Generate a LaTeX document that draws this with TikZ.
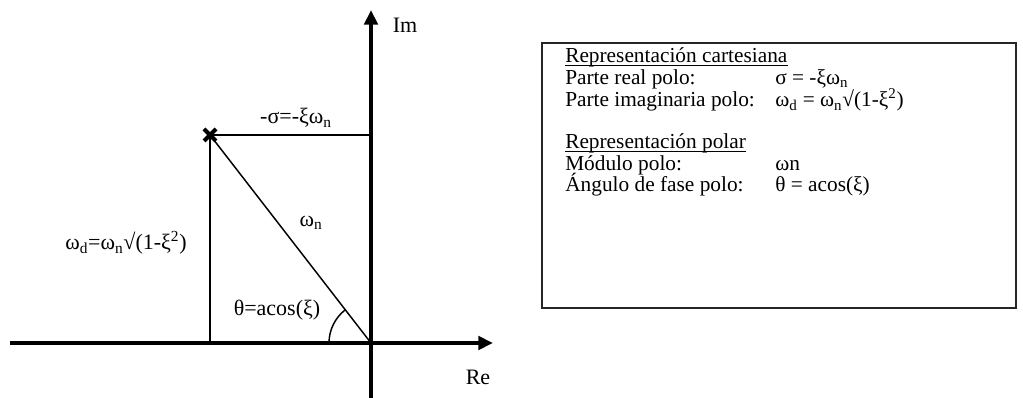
\documentclass[tikz,border=0pt]{standalone}
\usepackage{fontspec}
\setmainfont{Liberation Serif}
\usetikzlibrary{arrows.meta}
\newcommand{\sub}[1]{\textsubscript{#1}}
\newcommand{\sups}[1]{\textsuperscript{#1}}
\begin{document}
\begin{tikzpicture}[x=0.75pt,y=-0.75pt,
  axis/.style={line width=3pt,-{Triangle[length=11pt,width=10pt]}},
  thin/.style={line width=1.1pt},
  lbl/.style={inner sep=0pt,font=\fontsize{16.5}{19}\selectfont},
  txt/.style={inner sep=0pt,anchor=base west,font=\fontsize{16}{19}\selectfont},
  uline/.style={line width=0.8pt},
  frame/.style={line width=1.2pt,draw=black!85}]
\useasboundingbox (0,0) rectangle (1023,398);
% coordinates
\coordinate (xl) at (10,343);
\coordinate (xr) at (493,343);
\coordinate (yb) at (371,400);
\coordinate (yt) at (371,10);
\coordinate (O) at (371,343);
\coordinate (P) at (210,135);
\coordinate (Q) at (371,135);
\coordinate (F) at (210,343);
% axes
\draw[axis] (xl) -- (xr);
\draw[axis] (yb) -- (yt);
% triangle lines
\draw[thin] (P) -- (Q);
\draw[thin] (P) -- (F);
\draw[thin] (P) -- (O);
% angle arc
\draw[thin] ([shift={(180:42)}]O) arc[start angle=180,end angle=127.7,radius=42*0.75pt];
% pole marker
\draw[line width=3pt] ([shift={(-6,-6)}]P) -- ([shift={(6,6)}]P);
\draw[line width=3pt] ([shift={(-6,6)}]P) -- ([shift={(6,-6)}]P);
% labels
\node[lbl] (im) at (405,25) {Im};
\node[lbl] (re) at (478,377) {Re};
\node[lbl] (sig) at (296,118) {-σ=-ξω\sub{n}};
\node[lbl] (wn) at (311,223) {ω\sub{n}};
\node[lbl] (wd) at (126,243) {ω\sub{d}=ω\sub{n}√(1-ξ\sups{2})};
\node[lbl] (th) at (277,310) {θ=acos(ξ)};
% box
\draw[frame] (542,43) rectangle (1016,308);
\node[txt] (r1) at (565,63) {Representación cartesiana};
\draw[uline] ([yshift=-2.2pt]r1.base west) -- ([yshift=-2.2pt]r1.base east);
\node[txt] (r2) at (565,84.5) {Parte real polo:};
\node[txt] (r2b) at (775,84.5) {σ = -ξω\sub{n}};
\node[txt] (r3) at (565,107) {Parte imaginaria polo:};
\node[txt] (r3b) at (775,107) {ω\sub{d} = ω\sub{n}√(1-ξ\sups{2})};
\node[txt] (r4) at (565,149) {Representación polar};
\draw[uline] ([yshift=-2.2pt]r4.base west) -- ([yshift=-2.2pt]r4.base east);
\node[txt] (r5) at (565,170.5) {Módulo polo:};
\node[txt] (r5b) at (775,170.5) {ωn};
\node[txt] (r6) at (565,192) {Ángulo de fase polo:};
\node[txt] (r6b) at (775,192) {θ = acos(ξ)};
\end{tikzpicture}
\end{document}
